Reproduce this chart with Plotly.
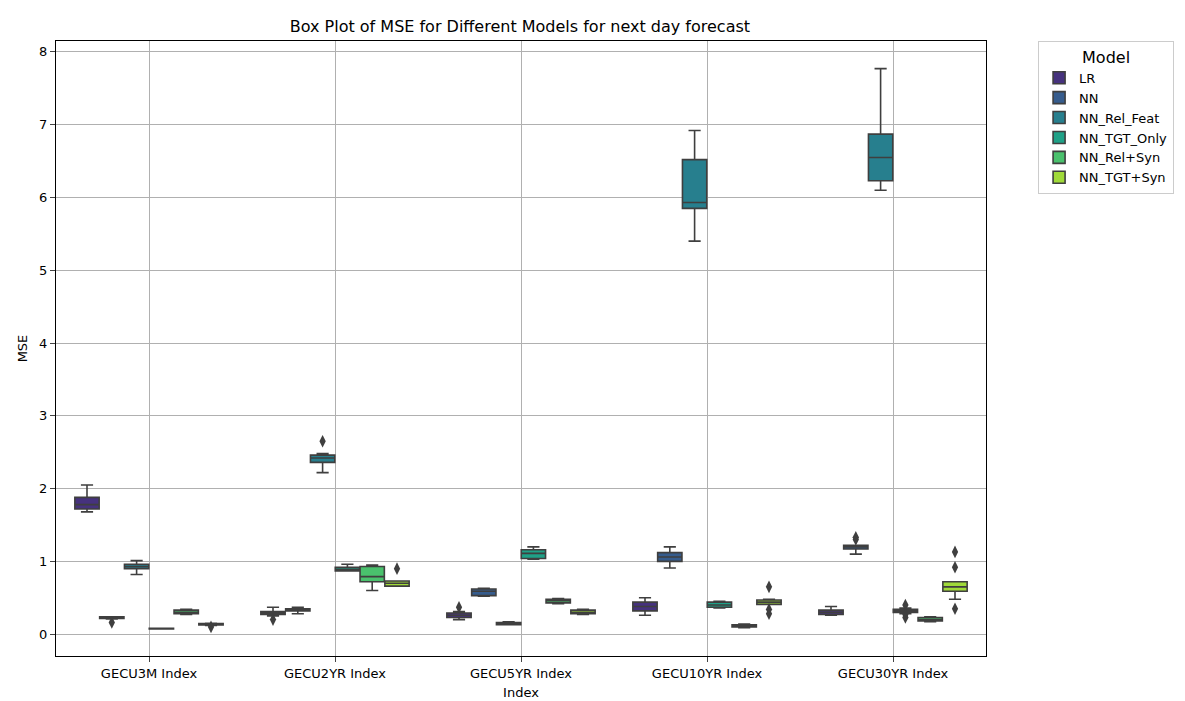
import plotly.graph_objects as go

groups = ["GECU3M Index", "GECU2YR Index", "GECU5YR Index", "GECU10YR Index", "GECU30YR Index"]
models = ["LR", "NN", "NN_Rel_Feat", "NN_TGT_Only", "NN_Rel+Syn", "NN_TGT+Syn"]
colors = ["#46327e", "#365c8d", "#277f8e", "#1fa187", "#4ac16d", "#a0da39"]

# per model, values for each group (in order of `groups`)
q1 = {
    "LR": [1.72, 0.27, 0.23, 0.32, 0.27],
    "NN": [0.215, 0.32, 0.53, 1.00, 1.17],
    "NN_Rel_Feat": [0.90, 2.36, 0.13, 5.85, 6.23],
    "NN_TGT_Only": [0.07, 0.87, 1.04, 0.37, 0.30],
    "NN_Rel+Syn": [0.28, 0.72, 0.43, 0.10, 0.18],
    "NN_TGT+Syn": [0.125, 0.66, 0.28, 0.41, 0.59],
}
median = {
    "LR": [1.78, 0.29, 0.26, 0.38, 0.30],
    "NN": [0.23, 0.34, 0.59, 1.06, 1.20],
    "NN_Rel_Feat": [0.93, 2.42, 0.15, 5.93, 6.55],
    "NN_TGT_Only": [0.075, 0.89, 1.11, 0.40, 0.32],
    "NN_Rel+Syn": [0.30, 0.79, 0.46, 0.11, 0.20],
    "NN_TGT+Syn": [0.135, 0.70, 0.30, 0.44, 0.65],
}
q3 = {
    "LR": [1.88, 0.31, 0.29, 0.44, 0.33],
    "NN": [0.24, 0.35, 0.62, 1.12, 1.22],
    "NN_Rel_Feat": [0.96, 2.46, 0.16, 6.52, 6.87],
    "NN_TGT_Only": [0.08, 0.92, 1.16, 0.44, 0.34],
    "NN_Rel+Syn": [0.33, 0.93, 0.48, 0.13, 0.23],
    "NN_TGT+Syn": [0.145, 0.73, 0.33, 0.47, 0.72],
}
low = {
    "LR": [1.68, 0.25, 0.20, 0.26, 0.26],
    "NN": [0.21, 0.28, 0.52, 0.91, 1.10],
    "NN_Rel_Feat": [0.82, 2.22, 0.13, 5.40, 6.10],
    "NN_TGT_Only": [0.07, 0.87, 1.03, 0.36, 0.28],
    "NN_Rel+Syn": [0.27, 0.60, 0.42, 0.09, 0.17],
    "NN_TGT+Syn": [0.12, 0.66, 0.27, 0.41, 0.48],
}
high = {
    "LR": [2.05, 0.37, 0.31, 0.50, 0.38],
    "NN": [0.24, 0.37, 0.63, 1.20, 1.22],
    "NN_Rel_Feat": [1.01, 2.48, 0.17, 6.92, 7.77],
    "NN_TGT_Only": [0.08, 0.96, 1.20, 0.45, 0.36],
    "NN_Rel+Syn": [0.34, 0.95, 0.49, 0.14, 0.24],
    "NN_TGT+Syn": [0.15, 0.73, 0.34, 0.48, 0.72],
}
# outliers: (group index, value)
outliers = {
    "LR": [(1, 0.20), (2, 0.37)],
    "NN": [(0, 0.16), (4, 1.30), (4, 1.33)],
    "NN_Rel_Feat": [(1, 2.65)],
    "NN_TGT_Only": [(4, 0.40), (4, 0.27), (4, 0.23)],
    "NN_Rel+Syn": [],
    "NN_TGT+Syn": [(0, 0.10), (1, 0.90), (3, 0.65), (3, 0.34), (3, 0.28),
                   (4, 0.92), (4, 1.13), (4, 0.35)],
}

slot = 0.8 / len(models)
edge = "#3f3f3f"

fig = go.Figure()
for i, (m, c) in enumerate(zip(models, colors)):
    off = -0.4 + slot * (i + 0.5)
    xs = [g + off for g in range(len(groups))]
    fig.add_trace(go.Box(
        x=xs, q1=q1[m], median=median[m], q3=q3[m],
        lowerfence=low[m], upperfence=high[m],
        name=m, fillcolor=c, line=dict(color=edge, width=1.6),
        width=slot * 0.98, whiskerwidth=0.5, boxpoints=False,
    ))
    if outliers[m]:
        fig.add_trace(go.Scatter(
            x=[g + off for g, _ in outliers[m]], y=[v for _, v in outliers[m]],
            mode="markers", showlegend=False, hoverinfo="skip",
            marker=dict(symbol="diamond-tall", size=9, color=edge),
        ))

axis = dict(showgrid=True, gridcolor="#b0b0b0", gridwidth=1, showline=True,
            linecolor="black", mirror=True, ticks="outside", zeroline=False,
            automargin=False, tickfont=dict(size=13, color="black"),
            title_font=dict(size=13))
fig.update_layout(
    width=1185, height=701, plot_bgcolor="white", paper_bgcolor="white",
    font=dict(family="DejaVu Sans", color="black", size=13),
    title=dict(text="Box Plot of MSE for Different Models for next day forecast",
               x=0.432, xanchor="center", y=0.974, yanchor="middle",
               font=dict(size=16), automargin=False),
    margin=dict(l=48, r=207, t=33, b=53),
    showlegend=True,
    legend=dict(title=dict(text="Model", side="top center"), x=1.056, y=1.0,
                xanchor="left", yanchor="top", bordercolor="#cccccc", borderwidth=1,
                font=dict(size=13)),
)
fig.update_xaxes(axis, tickvals=list(range(len(groups))), ticktext=groups,
                 range=[-0.5, len(groups) - 0.5], title_text="Index", title_standoff=8)
fig.update_yaxes(axis, range=[-0.3, 8.15], dtick=1, title_text="MSE", title_standoff=8)
fig.write_html("out.html")
